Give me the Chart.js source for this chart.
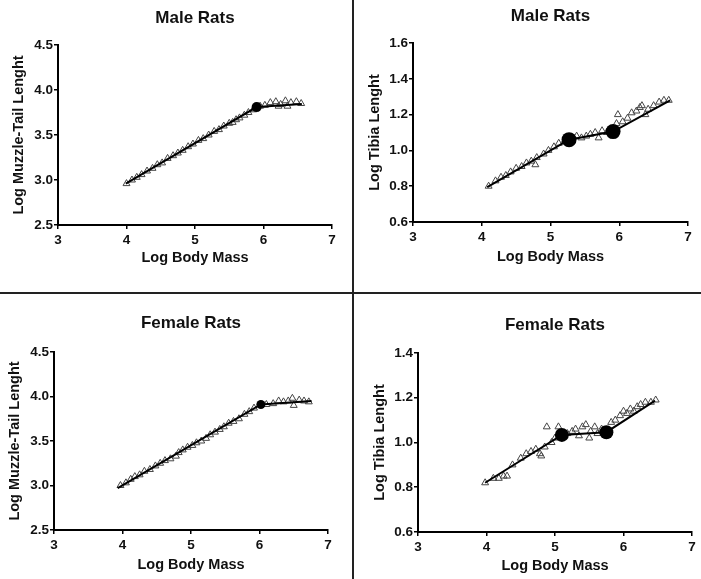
<!DOCTYPE html>
<html>
<head>
<meta charset="utf-8">
<script src="https://cdn.jsdelivr.net/npm/chart.js@4.4.0/dist/chart.umd.min.js"></script>
<style>
  body { margin: 0; background: #fff; }
  #page { position: relative; width: 701px; height: 579px; overflow: hidden; background: #fff; }
  canvas { position: absolute; }
  .vline { position: absolute; left: 352px; top: 0; width: 2px; height: 579px; background: #222; }
  .hline { position: absolute; left: 0; top: 292px; width: 701px; height: 2px; background: #222; }
</style>
</head>
<body>
<div id="page">
  <canvas id="c1" width="350" height="290"></canvas>
  <canvas id="c2" width="346" height="290"></canvas>
  <canvas id="c3" width="350" height="284"></canvas>
  <canvas id="c4" width="346" height="284"></canvas>
  <div class="vline"></div>
  <div class="hline"></div>
</div>
<script>
// tick labels
const massTicks = [3, 4, 5, 6, 7]
const muzzleTicks = [2.5, 3.0, 3.5, 4.0, 4.5]
const tibiaMaleTicks = [0.6, 0.8, 1.0, 1.2, 1.4, 1.6]
const tibiaFemaleTicks = [0.6, 0.8, 1.0, 1.2, 1.4]

// male rats, muzzle-tail
const maleMuzzleX = [4.00, 4.08, 4.15, 4.22, 4.30, 4.38, 4.45, 4.52, 4.60, 4.68, 4.75, 4.82, 4.90, 4.97, 5.05, 5.12, 5.20, 5.28, 5.35, 5.42, 5.50, 5.55, 5.60, 5.65, 5.72, 5.78, 5.85, 5.95, 6.02, 6.10, 6.18, 6.22, 6.25, 6.32, 6.35, 6.40, 6.48, 6.55]
const maleMuzzleY = [2.96, 3.00, 3.03, 3.06, 3.10, 3.13, 3.17, 3.19, 3.24, 3.27, 3.30, 3.33, 3.37, 3.40, 3.44, 3.46, 3.50, 3.54, 3.56, 3.60, 3.63, 3.64, 3.67, 3.69, 3.72, 3.75, 3.78, 3.82, 3.83, 3.86, 3.87, 3.82, 3.84, 3.88, 3.82, 3.86, 3.87, 3.85]
const maleMuzzleFitX = [3.99, 5.90, 6.56]
const maleMuzzleFitY = [2.96, 3.81, 3.845]
const maleMuzzleBreakX = [5.90]
const maleMuzzleBreakY = [3.81]

// male rats, tibia
const maleTibiaX = [4.10, 4.20, 4.28, 4.35, 4.42, 4.50, 4.58, 4.65, 4.72, 4.78, 4.80, 4.90, 4.97, 5.05, 5.12, 5.20, 5.38, 5.45, 5.52, 5.58, 5.65, 5.70, 5.75, 5.82, 5.96, 5.98, 6.05, 6.12, 6.18, 6.25, 6.30, 6.33, 6.38, 6.42, 6.50, 6.58, 6.65, 6.72]
const maleTibiaY = [0.80, 0.83, 0.85, 0.86, 0.88, 0.90, 0.91, 0.93, 0.94, 0.92, 0.96, 0.98, 1.00, 1.02, 1.04, 1.05, 1.08, 1.07, 1.08, 1.09, 1.10, 1.07, 1.11, 1.10, 1.15, 1.20, 1.16, 1.18, 1.21, 1.22, 1.24, 1.25, 1.20, 1.23, 1.25, 1.27, 1.28, 1.28]
const maleTibiaFitX = [4.08, 5.27, 5.91, 6.74]
const maleTibiaFitY = [0.795, 1.06, 1.105, 1.28]
const maleTibiaBreakX = [5.27, 5.91]
const maleTibiaBreakY = [1.06, 1.105]

// female rats, muzzle-tail
const femaleMuzzleX = [3.97, 4.05, 4.12, 4.18, 4.25, 4.32, 4.40, 4.48, 4.55, 4.62, 4.70, 4.78, 4.82, 4.88, 4.95, 5.02, 5.08, 5.15, 5.22, 5.28, 5.35, 5.42, 5.48, 5.55, 5.62, 5.70, 5.78, 5.85, 5.92, 6.10, 6.20, 6.28, 6.35, 6.42, 6.48, 6.50, 6.58, 6.65, 6.72]
const femaleMuzzleY = [3.00, 3.03, 3.07, 3.10, 3.12, 3.16, 3.18, 3.22, 3.25, 3.28, 3.30, 3.33, 3.37, 3.40, 3.43, 3.45, 3.48, 3.50, 3.53, 3.57, 3.60, 3.63, 3.66, 3.70, 3.72, 3.75, 3.80, 3.83, 3.87, 3.91, 3.92, 3.95, 3.94, 3.95, 3.98, 3.90, 3.96, 3.95, 3.94]
const femaleMuzzleFitX = [3.93, 6.02, 6.76]
const femaleMuzzleFitY = [2.97, 3.91, 3.95]
const femaleMuzzleBreakX = [6.02]
const femaleMuzzleBreakY = [3.91]

// female rats, tibia
const femaleTibiaX = [3.98, 4.10, 4.18, 4.25, 4.30, 4.38, 4.50, 4.58, 4.65, 4.72, 4.78, 4.80, 4.85, 4.88, 4.95, 5.00, 5.05, 5.18, 5.25, 5.30, 5.35, 5.40, 5.45, 5.50, 5.52, 5.58, 5.62, 5.68, 5.82, 5.88, 5.95, 6.00, 6.05, 6.10, 6.15, 6.20, 6.25, 6.32, 6.40, 6.47]
const femaleTibiaY = [0.82, 0.84, 0.84, 0.85, 0.85, 0.90, 0.93, 0.95, 0.96, 0.97, 0.95, 0.94, 0.98, 1.07, 1.00, 1.02, 1.07, 1.04, 1.05, 1.06, 1.03, 1.07, 1.08, 1.02, 1.05, 1.07, 1.04, 1.06, 1.09, 1.10, 1.12, 1.14, 1.13, 1.15, 1.14, 1.16, 1.17, 1.18, 1.18, 1.19]
const femaleTibiaFitX = [3.98, 5.10, 5.75, 6.46]
const femaleTibiaFitY = [0.82, 1.034, 1.046, 1.187]
const femaleTibiaBreakX = [5.10, 5.75]
const femaleTibiaBreakY = [1.034, 1.046]

const FONT = "'Liberation Sans', Arial, sans-serif"

function pts(xs, ys) {
    return xs.map((x, i) => ({ x: x, y: ys[i] }))
}

function makePanel(id, p) {
    const box = p.canvas
    const el = document.getElementById(id)
    el.style.left = box.x + 'px'
    el.style.top = box.y + 'px'

    const titleTop = p.titleY - box.y - 10.2
    const titleBottom = p.area.t - box.y - titleTop - 20.4
    const yAxisWidth = p.area.l - box.x
    const xAxisHeight = box.y + box.h - p.area.b

    new Chart(el, {
        type: 'scatter',
        data: {
            datasets: [
                {
                    data: pts(p.breakX, p.breakY),
                    pointStyle: 'circle',
                    pointRadius: p.circleR,
                    backgroundColor: '#000',
                    borderColor: '#000',
                    borderWidth: 0
                },
                {
                    type: 'line',
                    data: pts(p.fitX, p.fitY),
                    borderColor: '#000',
                    borderWidth: 2,
                    pointRadius: 0,
                    fill: false,
                    tension: 0
                },
                {
                    data: pts(p.x, p.y),
                    pointStyle: 'triangle',
                    pointRadius: 4,
                    backgroundColor: 'rgba(255,255,255,0)',
                    borderColor: '#444',
                    borderWidth: 1
                }
            ]
        },
        options: {
            responsive: false,
            animation: false,
            devicePixelRatio: 1,
            layout: { padding: { left: 0, right: box.x + box.w - p.area.r, top: 0, bottom: 0 } },
            plugins: {
                legend: { display: false },
                tooltip: { enabled: false },
                title: {
                    display: true,
                    text: p.title,
                    fullSize: false,
                    color: '#111',
                    font: { family: FONT, size: 17, weight: 'bold' },
                    padding: { top: titleTop, bottom: titleBottom }
                }
            },
            scales: {
                x: {
                    type: 'linear',
                    min: massTicks[0],
                    max: massTicks[massTicks.length - 1],
                    afterBuildTicks: s => { s.ticks = massTicks.map(v => ({ value: v })) },
                    afterFit: s => { s.height = xAxisHeight },
                    grid: { display: true, drawOnChartArea: false, drawTicks: true, tickLength: 4, color: '#000', lineWidth: 1.5 },
                    border: { display: true, color: '#000', width: 2 },
                    ticks: { color: '#111', padding: 3, font: { family: FONT, size: 13.5, weight: 'bold' }, callback: v => String(v) },
                    title: {
                        display: true,
                        text: 'Log Body Mass',
                        color: '#111',
                        font: { family: FONT, size: 14.5, weight: 'bold' },
                        padding: { top: 0, bottom: box.y + box.h - p.xTitleY - 8.7 }
                    }
                },
                y: {
                    type: 'linear',
                    min: p.yTicks[0],
                    max: p.yTicks[p.yTicks.length - 1],
                    afterBuildTicks: s => { s.ticks = p.yTicks.map(v => ({ value: v })) },
                    afterFit: s => { s.width = yAxisWidth },
                    grid: { display: true, drawOnChartArea: false, drawTicks: true, tickLength: 4, color: '#000', lineWidth: 1.5 },
                    border: { display: true, color: '#000', width: 2 },
                    ticks: { color: '#111', padding: 1, font: { family: FONT, size: 13.5, weight: 'bold' }, callback: v => Number(v).toFixed(1) },
                    title: {
                        display: true,
                        text: p.yTitle,
                        color: '#111',
                        font: { family: FONT, size: 14.5, weight: 'bold' },
                        padding: { top: p.yTitleX - box.x - 8.7, bottom: 0 }
                    }
                }
            }
        }
    })
}

makePanel('c1', {
    canvas: { x: 0, y: 0, w: 350, h: 290 },
    area: { l: 58, r: 332, t: 45, b: 225 },
    titleY: 18, yTitleX: 19, xTitleY: 258, circleR: 5,
    title: 'Male Rats', yTitle: 'Log Muzzle-Tail Lenght', yTicks: muzzleTicks,
    x: maleMuzzleX, y: maleMuzzleY, fitX: maleMuzzleFitX, fitY: maleMuzzleFitY,
    breakX: maleMuzzleBreakX, breakY: maleMuzzleBreakY
})

makePanel('c2', {
    canvas: { x: 355, y: 0, w: 346, h: 290 },
    area: { l: 413, r: 688, t: 43, b: 222 },
    titleY: 16, yTitleX: 375, xTitleY: 257, circleR: 7.5,
    title: 'Male Rats', yTitle: 'Log Tibia Lenght', yTicks: tibiaMaleTicks,
    x: maleTibiaX, y: maleTibiaY, fitX: maleTibiaFitX, fitY: maleTibiaFitY,
    breakX: maleTibiaBreakX, breakY: maleTibiaBreakY
})

makePanel('c3', {
    canvas: { x: 0, y: 295, w: 350, h: 284 },
    area: { l: 54, r: 328, t: 352, b: 530 },
    titleY: 323, yTitleX: 15, xTitleY: 565, circleR: 4.5,
    title: 'Female Rats', yTitle: 'Log Muzzle-Tail Lenght', yTicks: muzzleTicks,
    x: femaleMuzzleX, y: femaleMuzzleY, fitX: femaleMuzzleFitX, fitY: femaleMuzzleFitY,
    breakX: femaleMuzzleBreakX, breakY: femaleMuzzleBreakY
})

makePanel('c4', {
    canvas: { x: 355, y: 295, w: 346, h: 284 },
    area: { l: 418, r: 692, t: 353, b: 532 },
    titleY: 325, yTitleX: 380, xTitleY: 566, circleR: 7,
    title: 'Female Rats', yTitle: 'Log Tibia Lenght', yTicks: tibiaFemaleTicks,
    x: femaleTibiaX, y: femaleTibiaY, fitX: femaleTibiaFitX, fitY: femaleTibiaFitY,
    breakX: femaleTibiaBreakX, breakY: femaleTibiaBreakY
})
</script>
</body>
</html>
